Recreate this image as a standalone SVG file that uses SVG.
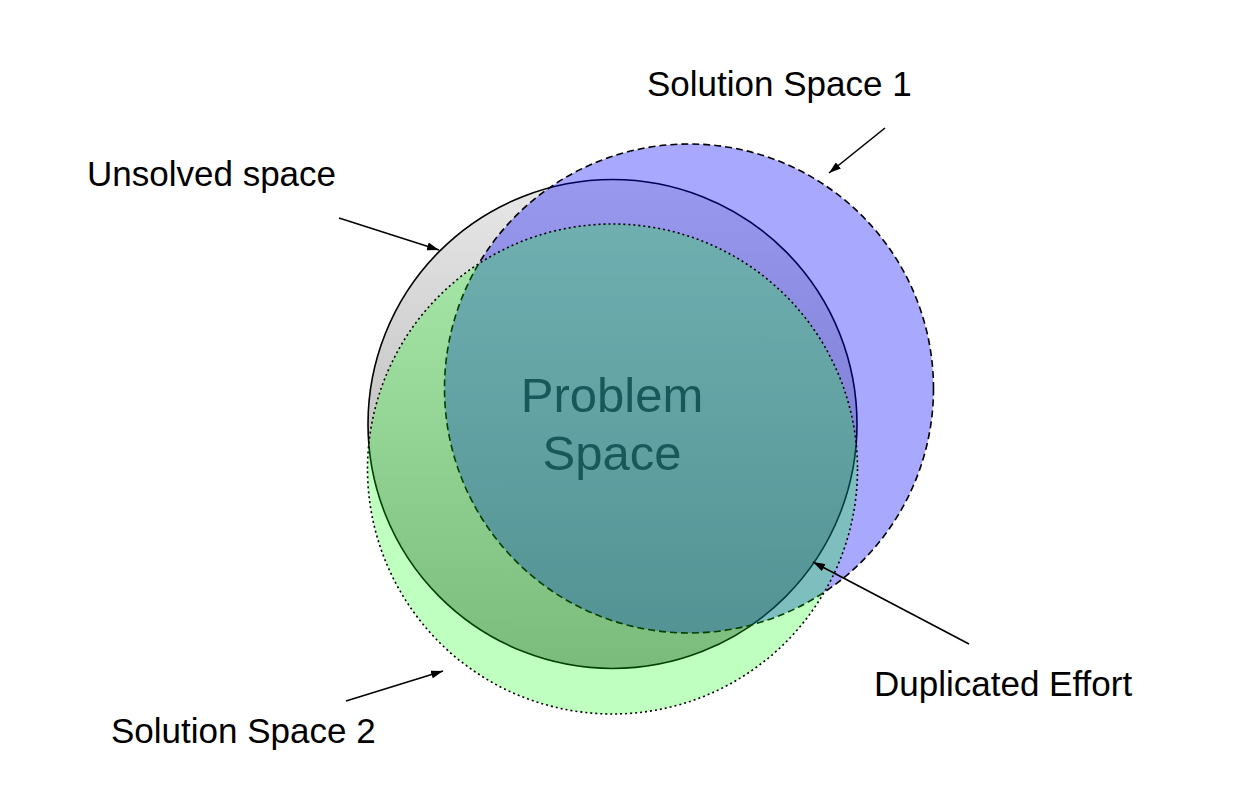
<svg xmlns="http://www.w3.org/2000/svg" width="1250" height="804" viewBox="0 0 1250 804">
  <style>
    .label { font-family: "Liberation Sans", Arial, sans-serif; font-size: 35px; fill: #000; }
    .center { font-family: "Liberation Sans", Arial, sans-serif; font-size: 49px; fill: #333333; text-anchor: middle; }
    .arrow { stroke: #000; stroke-width: 1.6; fill: none; marker-end: url(#head); }
  </style>
  <defs>
    <linearGradient id="grayGrad" gradientUnits="userSpaceOnUse" x1="0" y1="179" x2="0" y2="669">
      <stop offset="0" stop-color="#e8e8e8"/>
      <stop offset="1" stop-color="#a4a4a4"/>
    </linearGradient>
    <marker id="head" viewBox="0 0 12 8" refX="12" refY="4" markerWidth="12" markerHeight="8" markerUnits="userSpaceOnUse" orient="auto">
      <path d="M0,0 L12,4 L0,8 Z" fill="#000"/>
    </marker>
  </defs>
  <rect width="1250" height="804" fill="#ffffff"/>

  <g id="problem-space">
    <circle cx="612.5" cy="424" r="244.5" fill="url(#grayGrad)" stroke="#000" stroke-width="1.6"/>
    <text class="center" x="612" y="412">Problem</text>
    <text class="center" x="612" y="470">Space</text>
  </g>

  <g id="solution-space-1">
    <circle cx="689" cy="388.5" r="244.5" fill="#0000ff" fill-opacity="0.34" stroke="#000" stroke-width="1.6" stroke-dasharray="7 4"/>
  </g>

  <g id="solution-space-2">
    <circle cx="612.5" cy="469" r="245" fill="#00ff00" fill-opacity="0.25" stroke="#000" stroke-width="1.6" stroke-dasharray="2 3"/>
  </g>

  <g id="connectors">
    <line class="arrow" x1="339" y1="218" x2="439" y2="250"/>
    <line class="arrow" x1="885" y1="128" x2="829" y2="173"/>
    <line class="arrow" x1="346" y1="701" x2="443" y2="671"/>
    <line class="arrow" x1="969" y1="644" x2="813" y2="562"/>
  </g>

  <g id="label-unsolved">
    <text class="label" x="87" y="186">Unsolved space</text>
  </g>
  <g id="label-solution-1">
    <text class="label" x="647" y="96">Solution Space 1</text>
  </g>
  <g id="label-solution-2">
    <text class="label" x="111" y="743">Solution Space 2</text>
  </g>
  <g id="label-duplicated">
    <text class="label" x="874" y="696">Duplicated Effort</text>
  </g>
</svg>
